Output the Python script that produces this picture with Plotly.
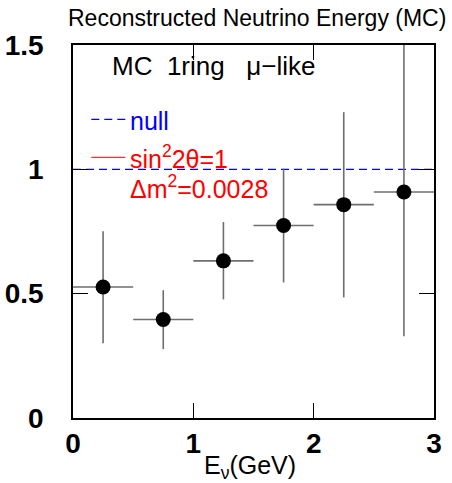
import plotly.graph_objects as go

# Data
energy_bin_centers = [0.25, 0.75, 1.25, 1.75, 2.25, 2.75]
energy_bin_halfwidth = [0.25, 0.25, 0.25, 0.25, 0.25, 0.25]
ratio = [0.527, 0.396, 0.632, 0.774, 0.858, 0.909]
err_plus = [0.224, 0.118, 0.156, 0.229, 0.372, 0.70]
err_minus = [0.226, 0.119, 0.155, 0.229, 0.373, 0.58]
null_x = [0, 3]
null_y = [1, 1]

FONT = "Liberation Sans, Arial, sans-serif"

fig = go.Figure()

fig.add_trace(go.Scatter(
    x=null_x, y=null_y, mode="lines",
    line=dict(color="#0000ff", width=1.2, dash="8px,5px"),
    showlegend=False, hoverinfo="skip"))

fig.add_trace(go.Scatter(
    x=energy_bin_centers, y=ratio, mode="markers",
    marker=dict(color="black", size=15, symbol="circle"),
    error_y=dict(type="data", symmetric=False, array=err_plus, arrayminus=err_minus,
                 color="#6e6e6e", thickness=1.6, width=0),
    error_x=dict(type="data", array=energy_bin_halfwidth,
                 color="#6e6e6e", thickness=1.6, width=0),
    showlegend=False, cliponaxis=True))

axis_common = dict(
    showline=True, linecolor="black", linewidth=1.5, mirror="ticks",
    ticks="inside", ticklen=15, tickwidth=1.2, tickcolor="black",
    showgrid=False, zeroline=False, automargin=False,
    tickfont=dict(family=FONT, size=28, color="black", weight="bold"),
)

fig.update_xaxes(range=[0, 3], tickvals=[0, 1, 2, 3], ticktext=["0", "1", "2", "3"],
                 ticklabelstandoff=0, **axis_common)
fig.update_yaxes(range=[0, 1.5], tickvals=[0, 0.5, 1, 1.5], ticktext=["0", "0.5", "1", "1.5"],
                 ticklabelstandoff=22, **axis_common)

# legend samples
fig.add_shape(type="line", xref="paper", yref="paper", x0=0.0507, x1=0.1448, y0=0.8005, y1=0.8005,
              line=dict(color="#0000ff", width=1.2, dash="8px,5px"))
fig.add_shape(type="line", xref="paper", yref="paper", x0=0.0507, x1=0.1448, y0=0.6988, y1=0.6988,
              line=dict(color="#ff3030", width=1.2))

ann = []
ann.append(dict(text="Reconstructed Neutrino Energy (MC)", xref="paper", yref="paper",
                x=1.039, y=1.0736, xanchor="right", yanchor="middle", showarrow=False,
                font=dict(family=FONT, size=23, color="black")))
ann.append(dict(text="MC  1ring   \u03bc\u2212like", xref="paper", yref="paper",
                x=0.103, y=0.945, xanchor="left", yanchor="middle", showarrow=False,
                font=dict(family=FONT, size=26, color="black")))
ann.append(dict(text="null", xref="paper", yref="paper",
                x=0.153, y=0.795, xanchor="left", yanchor="middle", showarrow=False,
                font=dict(family=FONT, size=25, color="#0000ff")))
ann.append(dict(text="sin<sup>2</sup>2\u03b8=1", xref="paper", yref="paper",
                x=0.153, y=0.70, xanchor="left", yanchor="middle", showarrow=False,
                font=dict(family=FONT, size=25, color="#ff0000")))
ann.append(dict(text="\u0394m<sup>2</sup>=0.0028", xref="paper", yref="paper",
                x=0.153, y=0.62, xanchor="left", yanchor="middle", showarrow=False,
                font=dict(family=FONT, size=25, color="#ff0000")))
ann.append(dict(text="E<sub>\u03bd</sub>(GeV)", xref="paper", yref="paper",
                x=0.49, y=-0.082, xanchor="center", yanchor="top", showarrow=False,
                font=dict(family=FONT, size=25, color="black")))

fig.update_layout(
    width=452, height=483,
    margin=dict(l=72.7, r=18, t=44.5, b=65),
    paper_bgcolor="white", plot_bgcolor="white",
    annotations=ann, showlegend=False,
)

fig.write_html("out.html")
